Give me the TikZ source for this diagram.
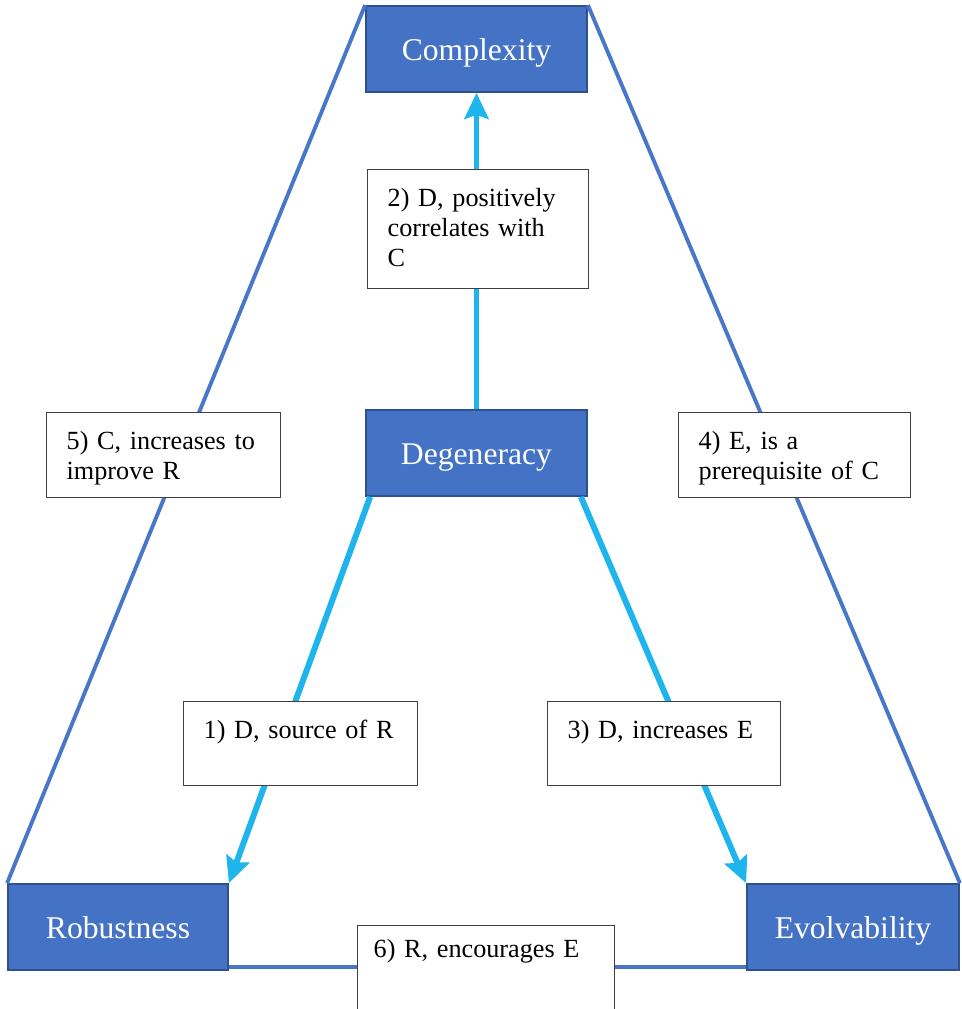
\documentclass[tikz,border=0pt]{standalone}
\usepackage{fontspec}
\setmainfont{Liberation Serif}
\usetikzlibrary{arrows.meta}

\definecolor{boxblue}{RGB}{68,114,196}
\definecolor{boxborder}{RGB}{47,82,143}
\definecolor{arrowblue}{RGB}{30,180,236}
\definecolor{frameblue}{RGB}{72,118,200}

\tikzstyle{mainbox}=[shape=rectangle,draw=boxborder,fill=boxblue,line width=1pt,text=white,inner sep=0pt,minimum height=1.72cm,text height=0.6cm,text depth=0.12cm,font=\fontsize{18}{22}\selectfont]
\tikzstyle{labelbox}=[shape=rectangle,draw=black!75,fill=white,line width=0.8pt,anchor=north west,align=left,inner xsep=0.4cm,inner ysep=0.2cm,text height=0.54cm,font=\fontsize{14.9}{17.1}\selectfont]
\tikzstyle{mainedge}=[->,>={Stealth[length=0.52cm,width=0.48cm,inset=0.08cm]},draw=arrowblue,line width=3.4pt]
\tikzstyle{frameedge}=[draw=frameblue,line width=2.2pt]

\begin{document}
\begin{tikzpicture}[]
\useasboundingbox (0,0) rectangle (19.22,20.18);
% blue boxes
\node[mainbox,minimum width=4.42cm] (complexity) at (9.53,19.20) {Complexity};
\node[mainbox,minimum width=4.42cm] (degeneracy) at (9.53,11.12) {Degeneracy};
\node[mainbox,minimum width=4.40cm] (robustness) at (2.36,1.64) {Robustness};
\node[mainbox,minimum width=4.24cm] (evolvability) at (17.06,1.64) {Evolvability};
% outer frame
\draw[frameedge] (complexity.north west) -- (robustness.north west);
\draw[frameedge] (complexity.north east) -- (evolvability.north east);
\draw[frameedge] ([yshift=0.08cm]robustness.south east) -- ([yshift=0.08cm]evolvability.south west);
% arrows from degeneracy
\draw[mainedge] (degeneracy.north) -- (complexity.south);
\draw[mainedge] ([xshift=0.1cm]degeneracy.south west) -- (robustness.north east);
\draw[mainedge] ([xshift=-0.14cm]degeneracy.south east) -- (evolvability.north west);
% labels
\node[labelbox,text width=3.62cm,text depth=1.44cm] (lab2) at (7.34,16.80) {\mbox{2) D, positively}\\\mbox{correlates with}\\C};
\node[labelbox,text width=3.88cm,text depth=0.76cm] (lab5) at (0.92,11.94) {\mbox{5) C, increases to}\\improve R};
\node[labelbox,text width=3.84cm,text depth=0.76cm] (lab4) at (13.56,11.94) {4) E, is a\\\mbox{prerequisite of C}};
\node[labelbox,text width=3.88cm,text depth=0.74cm] (lab1) at (3.66,6.16) {\mbox{1) D, source of R}};
\node[labelbox,text width=3.86cm,text depth=0.74cm] (lab3) at (10.94,6.16) {\mbox{3) D, increases E}};
\node[labelbox,inner xsep=0.32cm,text width=4.50cm,text height=0.44cm,text depth=0.92cm] (lab6) at (7.14,1.68) {\mbox{6) R, encourages E}};
\end{tikzpicture}
\end{document}
